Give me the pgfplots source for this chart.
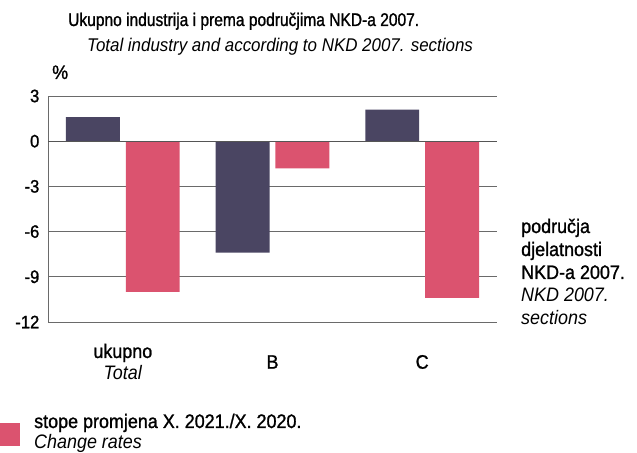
\documentclass[border=0pt]{standalone}
\usepackage{fontspec}
\setmainfont{Liberation Sans}[FakeStretch=0.92, UprightFeatures={FakeBold=1.2}]
\newfontfamily\titlefont{Liberation Sans}[FakeStretch=0.85, UprightFeatures={FakeBold=1.2}]
\usepackage{pgfplots}
\pgfplotsset{compat=1.18}
\definecolor{darkbar}{HTML}{4A4562}
\definecolor{pinkbar}{HTML}{DB536F}
\definecolor{gridc}{HTML}{6A6A6A}
\newcommand{\lab}{\fontsize{19.5bp}{21bp}\selectfont}
\begin{document}
\lab
\begin{tikzpicture}[x=1bp,y=1bp]
\useasboundingbox (0,0) rectangle (637,453);
\begin{axis}[
  at={(48bp,131bp)}, anchor=south west,
  scale only axis, width=449bp, height=226bp,
  xmin=-0.5, xmax=2.5, ymin=-12, ymax=3,
  ytick={-12,-9,-6,-3,0,3},
  xtick={0,1,2},
  xticklabels={{ukupno\\\textit{Total}},B,C},
  major tick length=0pt,
  axis line style={draw=none},
  ymajorgrids, grid style={draw=gridc, line width=0.8bp},
  /pgf/number format/assume math mode=true,
  yticklabel style={font=\fontsize{18bp}{20bp}\selectfont, xshift=-2bp},
  xticklabel style={align=center, anchor=center, yshift=-40bp, font=\fontsize{19.5bp}{22bp}\selectfont},
  clip=false,
]
\addplot[ybar, bar width=0.36, bar shift=0pt, fill=darkbar, draw=none]
  coordinates {(-0.2,1.6) (0.8,-7.4) (1.8,2.1)};
\addplot[ybar, bar width=0.36, bar shift=0pt, fill=pinkbar, draw=none]
  coordinates {(0.2,-10.0) (1.2,-1.8) (2.2,-10.4)};
\draw[draw=gridc, line width=0.8bp] (rel axis cs:0,0) -- (rel axis cs:0,1);
\draw[draw=gridc!80!black, line width=1bp] (axis cs:-0.5,0) -- (axis cs:2.5,0);
\end{axis}
\node[anchor=base west, inner sep=0] at (68,427) {\titlefont\fontsize{18.3bp}{20bp}\selectfont Ukupno industrija i prema područjima NKD-a 2007.};
\node[anchor=base west, inner sep=0] at (87,401) {\fontsize{18.4bp}{20bp}\selectfont\itshape Total industry and according to NKD 2007. sections};
\node[anchor=base west, inner sep=0] at (52,374) {\%};
\node[anchor=base west, inner sep=0, align=left, font=\fontsize{19.5bp}{23bp}\selectfont] at (521,128)
  {područja\\djelatnosti\\NKD-a 2007.\\\textit{NKD 2007.}\\\textit{sections}};
\fill[pinkbar] (0,7) rectangle (20,30);
\node[anchor=base west, inner sep=0] at (34,25) {stope promjena X. 2021./X. 2020.};
\node[anchor=base west, inner sep=0] at (34,4.5) {\itshape Change rates};
\end{tikzpicture}
\end{document}
